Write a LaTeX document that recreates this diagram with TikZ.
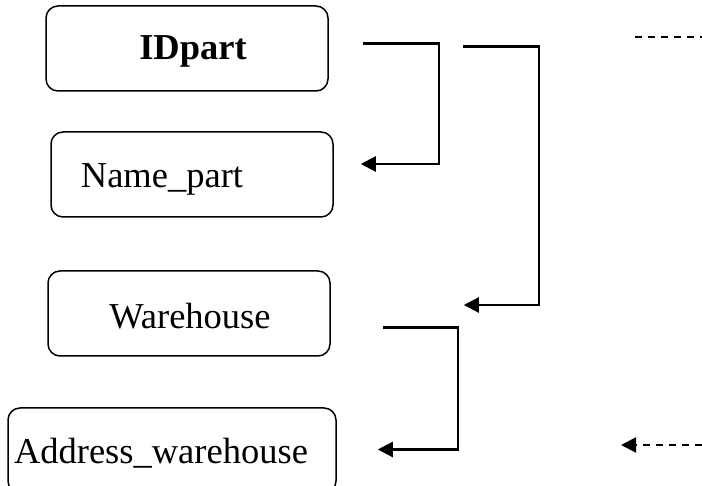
\documentclass[tikz,border=0pt]{standalone}
\usepackage{fontspec}
\setmainfont{Liberation Serif}
\usetikzlibrary{arrows.meta, positioning}

\begin{document}
\begin{tikzpicture}[
   x=1pt, y=-1pt,
     box/.style = {draw, line width=1.5pt, rounded corners=12pt,
                   minimum width=282pt, minimum height=85pt,
                   node contents={}},
     txt/.style = {font=\fontsize{36.5}{40}\selectfont, inner sep=0pt,
                   yshift=-3pt},
    conn/.style = {line width=2.2pt, -{Triangle[length=15pt,width=15pt]}},
dashline/.style = {line width=2pt, dash pattern=on 7pt off 6pt}
                    ]
  \useasboundingbox (0,0) rectangle (702,486);
  \node (idpart)    [box, at={(187,48.5)},
                     label={[txt,xshift=6pt]center:\textbf{IDpart}}];
  \node (namepart)  [box, at={(192,174.5)},
                     label={[txt,xshift=-30pt,yshift=-1.5pt]center:Name\_part}];
  \node (warehouse) [box, at={(189,313.5)},
                     label={[txt,xshift=1pt]center:Warehouse}];
  \node (address)   [box, at={(172,450.5)}, minimum width=328pt,
                     label={[txt,xshift=-11pt]center:Address\_warehouse}];
  % links
  \draw [conn] ([xshift=34pt,yshift=5pt]idpart.east) -- ++(76,0)
        |- ([xshift=27pt,yshift=10.5pt]namepart.east);
  \draw [conn] ([xshift=134pt,yshift=2pt]idpart.east) -- ++(76,0)
        |- ([xshift=133pt,yshift=8.5pt]warehouse.east);
  \draw [conn] ([xshift=52pt,yshift=-14pt]warehouse.east) -- ++(75,0)
        |- ([xshift=41pt,yshift=1pt]address.east);
  % cut-off lines at the right
  \coordinate (top a) at (635,36.7);
  \coordinate (top b) at (702,36.7);
  \coordinate (bot a) at (702,445);
  \coordinate (bot b) at (621,445);
  \draw [dashline] (top a) -- (top b);
  \draw [dashline, -{Triangle[length=15pt,width=15pt]}] (bot a) -- (bot b);
\end{tikzpicture}
\end{document}
